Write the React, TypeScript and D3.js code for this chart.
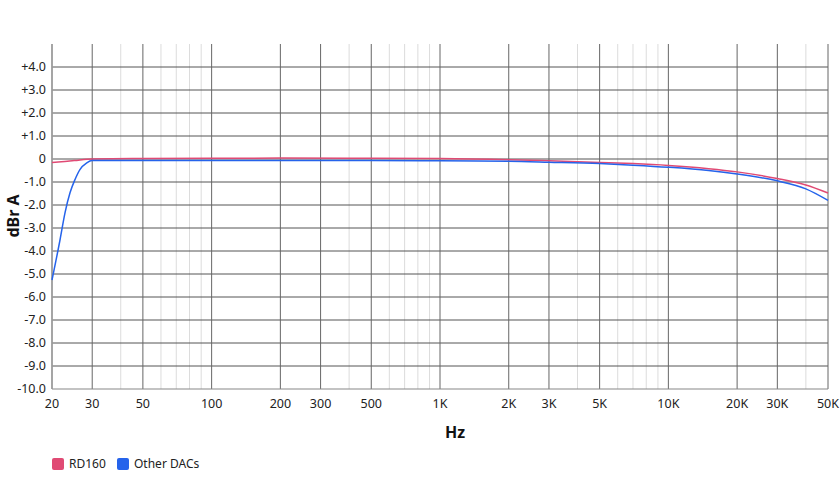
import React from "react";
import * as d3 from "d3";

const majorTicks = [20, 30, 50, 100, 200, 300, 500, 1000, 2000, 3000, 5000, 10000, 20000, 30000, 50000];
const majorLabels = ["20", "30", "50", "100", "200", "300", "500", "1K", "2K", "3K", "5K", "10K", "20K", "30K", "50K"];
const minorTicks = [40, 60, 70, 80, 90, 400, 600, 700, 800, 900, 4000, 6000, 7000, 8000, 9000, 40000];
const yTicks = [4, 3, 2, 1, 0, -1, -2, -3, -4, -5, -6, -7, -8, -9, -10];
const yLabels = ["+4.0", "+3.0", "+2.0", "+1.0", "0", "-1.0", "-2.0", "-3.0", "-4.0", "-5.0", "-6.0", "-7.0", "-8.0", "-9.0", "-10.0"];

const rdFreq = [20, 22, 25, 30, 50, 100, 200, 500, 1000, 2000, 3000, 5000, 7000, 10000, 15000, 20000, 30000, 40000, 50000];
const rdVals = [-0.15, -0.12, -0.07, 0.0, 0.02, 0.03, 0.04, 0.03, 0.02, -0.03, -0.08, -0.15, -0.2, -0.28, -0.42, -0.56, -0.85, -1.13, -1.48];

const otherFreq = [20, 21.7, 22.8, 24, 25.2, 26.5, 28.4, 30, 50, 100, 500, 1000, 2000, 3000, 5000, 7000, 10000, 15000, 20000, 30000, 40000, 50000];
const otherVals = [-5.26, -3.5, -2.34, -1.46, -0.9, -0.46, -0.17, -0.07, -0.06, -0.06, -0.06, -0.08, -0.1, -0.14, -0.2, -0.27, -0.36, -0.5, -0.65, -0.95, -1.3, -1.8];

const seriesNames = ["RD160", "Other DACs"];
const seriesColors = ["#e04a74", "#2563eb"];

export default function App() {
  const W = 840, H = 480;
  const left = 52, right = 828, top = 44, bottom = 389;
  const x = d3.scaleLog().domain([20, 50000]).range([left, right]);
  const y = d3.scaleLinear().domain([-10, 5]).range([bottom, top]);
  const line = d3.line<[number, number]>()
    .x(d => x(d[0]))
    .y(d => y(d[1]))
    .curve(d3.curveMonotoneX);
  const rdPath = line(rdFreq.map((f, i) => [f, rdVals[i]] as [number, number])) || "";
  const otherPath = line(otherFreq.map((f, i) => [f, otherVals[i]] as [number, number])) || "";
  const font = "'Noto Sans', 'Open Sans', sans-serif";

  return (
    <svg width={W} height={H} style={{ position: "absolute", left: 0, top: 0, background: "#fff" }} fontFamily={font}>
      {minorTicks.map(t => (
        <line key={"mi" + t} x1={x(t)} x2={x(t)} y1={top} y2={bottom} stroke="#dcdcdc" strokeWidth={1} />
      ))}
      {yTicks.filter(t => t > -10).map(t => (
        <line key={"h" + t} x1={left} x2={right} y1={y(t)} y2={y(t)} stroke="#555" strokeWidth={1} />
      ))}
      {majorTicks.map(t => (
        <line key={"ma" + t} x1={x(t)} x2={x(t)} y1={top} y2={bottom} stroke={t === 20 ? "#999" : "#666"} strokeWidth={1} />
      ))}
      <line x1={left} x2={right} y1={bottom} y2={bottom} stroke="#888" strokeWidth={1.2} />
      <line x1={left} x2={left} y1={top} y2={bottom} stroke="#999" strokeWidth={1.5} />
      {yTicks.map((t, i) => (
        <text key={"yl" + t} x={46} y={y(t)} dy="0.35em" textAnchor="end" fontSize={12.5} fill="#222">{yLabels[i]}</text>
      ))}
      {majorTicks.map((t, i) => (
        <text key={"xl" + t} x={x(t)} y={404} dy="0.35em" textAnchor="middle" fontSize={12.5} fill="#222">{majorLabels[i]}</text>
      ))}
      <path d={rdPath} fill="none" stroke={seriesColors[0]} strokeWidth={1.5} />
      <path d={otherPath} fill="none" stroke={seriesColors[1]} strokeWidth={1.5} />
      <text x={455} y={432} dy="0.35em" textAnchor="middle" fontSize={16} fontWeight="bold" fill="#111">Hz</text>
      <text transform={`translate(13,216) rotate(-90)`} dy="0.35em" textAnchor="middle" fontSize={16} fontWeight="bold" fill="#111">dBr A</text>
      {seriesNames.map((n, i) => {
        const lx = i === 0 ? 52 : 117;
        return (
          <g key={n}>
            <rect x={lx} y={458} width={12} height={12} rx={2} fill={seriesColors[i]} />
            <text x={lx + 17} y={464} dy="0.35em" fontSize={12} fill="#222">{n}</text>
          </g>
        );
      })}
    </svg>
  );
}
